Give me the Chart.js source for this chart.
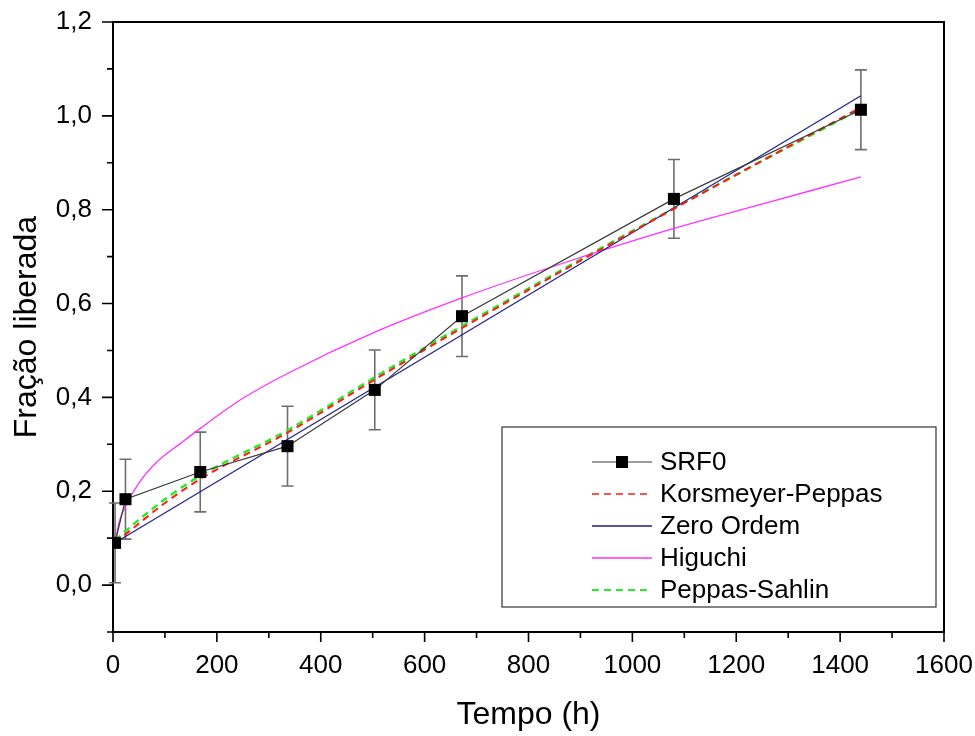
<!DOCTYPE html>
<html>
<head>
<meta charset="utf-8">
<script src="https://cdn.jsdelivr.net/npm/chart.js@4.4.0/dist/chart.umd.min.js"></script>
<style>
  body { margin: 0; background: #fff; }
  #wrap { width: 975px; height: 736px; }
</style>
</head>
<body>
<div id="wrap"><canvas id="myChart" width="975" height="736"></canvas></div>
<script>
// dados experimentais
const tempo = [4, 24, 168, 336, 504, 672, 1080, 1440];
const srf0 = [0.09, 0.183, 0.241, 0.296, 0.416, 0.573, 0.823, 1.013];
const srf0Erro = [0.085, 0.085, 0.085, 0.085, 0.085, 0.086, 0.084, 0.085];

// curvas dos modelos
const tModelo = [4, 24, 100, 168, 336, 504, 672, 1080, 1440];
const korsmeyer = [0.09, 0.108, 0.175, 0.226, 0.325, 0.438, 0.548, 0.802, 1.018];
const sahlin = [0.095, 0.115, 0.183, 0.233, 0.33, 0.443, 0.552, 0.803, 1.015];

const tZero = [4, 1440];
const zeroOrdem = [0.09, 1.043];

const tHiguchi = [4, 12, 24, 50, 85, 130, 168, 250, 336, 504, 672, 850, 1080, 1260, 1440];
const higuchi = [0.09, 0.135, 0.168, 0.218, 0.263, 0.302, 0.334, 0.398, 0.451, 0.539, 0.612, 0.68, 0.76, 0.815, 0.87];

const xTicks = [0, 200, 400, 600, 800, 1000, 1200, 1400, 1600];
const yTicks = [0.0, 0.2, 0.4, 0.6, 0.8, 1.0, 1.2];

const pts = (xs, ys) => xs.map((x, i) => ({x: x, y: ys[i]}));
const FONT = "'Liberation Sans', Arial, sans-serif";

const ctx = document.getElementById('myChart').getContext("2d");

// barras de erro, moldura, ticks e legenda
const extras = {
	id: 'extras',
	beforeDatasetsDraw(chart) {
		const c = chart.ctx, xs = chart.scales.x, ys = chart.scales.y;
		c.save();
		c.strokeStyle = '#6e6e6e';
		c.lineWidth = 1.6;
		tempo.forEach((t, i) => {
			const px = xs.getPixelForValue(t);
			const top = ys.getPixelForValue(srf0[i] + srf0Erro[i]);
			const bot = ys.getPixelForValue(srf0[i] - srf0Erro[i]);
			c.beginPath();
			c.moveTo(px, top); c.lineTo(px, bot);
			c.moveTo(px - 6, top); c.lineTo(px + 6, top);
			c.moveTo(px - 6, bot); c.lineTo(px + 6, bot);
			c.stroke();
		});
		c.restore();
	},
	afterDraw(chart) {
		const c = chart.ctx, a = chart.chartArea, xs = chart.scales.x, ys = chart.scales.y;
		c.save();
		c.strokeStyle = '#000';
		c.lineWidth = 2;
		c.beginPath();
		c.moveTo(a.left, a.top); c.lineTo(a.right, a.top); c.lineTo(a.right, a.bottom);
		c.stroke();
		c.lineWidth = 1.6;
		c.beginPath();
		for (let v = 0; v <= 1600; v += 100) {
			const px = xs.getPixelForValue(v);
			const len = v % 200 === 0 ? 10 : 6;
			c.moveTo(px, a.bottom); c.lineTo(px, a.bottom + len);
		}
		for (let k = -1; k <= 12; k++) {
			const py = ys.getPixelForValue(k / 10);
			const len = k % 2 === 0 ? 11 : 6;
			c.moveTo(a.left, py); c.lineTo(a.left - len, py);
		}
		c.stroke();

		// legenda
		const bx = 502, by = 427, bw = 434, bh = 180;
		c.fillStyle = '#fff';
		c.fillRect(bx, by, bw, bh);
		c.strokeStyle = '#333';
		c.lineWidth = 1.2;
		c.strokeRect(bx, by, bw, bh);
		c.font = '26px ' + FONT;
		c.textBaseline = 'middle';
		const rows = [462, 494, 526, 558, 590];
		chart.data.datasets.forEach((ds, i) => {
			const y = rows[i];
			c.save();
			c.strokeStyle = ds.borderColor;
			c.lineWidth = ds.legendWidth;
			c.setLineDash(ds.borderDash || []);
			c.beginPath();
			c.moveTo(592, y); c.lineTo(652, y);
			c.stroke();
			if (i === 0) {
				c.fillStyle = '#000';
				c.fillRect(616, y - 6, 12, 12);
			}
			c.restore();
			c.fillStyle = '#000';
			c.fillText(ds.label, 660, y + 1);
		});
		c.restore();
	}
};

new Chart(ctx, {
	type: 'line',
	data: {
		datasets: [{
			label: 'SRF0',
			data: pts(tempo, srf0),
			borderColor: '#3a3a3a',
			borderWidth: 1.2,
			legendWidth: 1.2,
			pointStyle: 'rect',
			pointRadius: 8.5,
			pointBackgroundColor: '#000',
			pointBorderColor: '#000',
			pointBorderWidth: 0,
			tension: 0
		}, {
			label: 'Korsmeyer-Peppas',
			data: pts(tModelo, korsmeyer),
			borderColor: '#ff1a1a',
			borderWidth: 2,
			legendWidth: 1.6,
			borderDash: [7, 5],
			pointRadius: 0,
			cubicInterpolationMode: 'monotone'
		}, {
			label: 'Zero Ordem',
			data: pts(tZero, zeroOrdem),
			borderColor: '#1f1f8f',
			borderWidth: 1.2,
			legendWidth: 1.4,
			pointRadius: 0,
			tension: 0
		}, {
			label: 'Higuchi',
			data: pts(tHiguchi, higuchi),
			borderColor: '#ff33ff',
			borderWidth: 1.3,
			legendWidth: 1.6,
			pointRadius: 0,
			cubicInterpolationMode: 'monotone'
		}, {
			label: 'Peppas-Sahlin',
			data: pts(tModelo, sahlin),
			borderColor: '#22ee22',
			borderWidth: 2.4,
			legendWidth: 1.8,
			borderDash: [7, 5],
			pointRadius: 0,
			cubicInterpolationMode: 'monotone'
		}]
	},
	options: {
		responsive: false,
		animation: false,
		layout: {
			padding: {top: 22, right: 31, left: 0, bottom: 0}
		},
		plugins: {
			legend: {display: false},
			tooltip: {enabled: false},
			title: {display: false}
		},
		scales: {
			x: {
				type: 'linear',
				min: 0,
				max: 1600,
				afterFit: (s) => { s.height = 104; s.paddingLeft = 0; s.paddingRight = 0; },
				afterBuildTicks: (s) => { s.ticks = xTicks.map(v => ({value: v})); },
				grid: {display: false},
				border: {display: true, color: '#000', width: 2},
				ticks: {
					color: '#000',
					font: {family: FONT, size: 26},
					padding: 10,
					maxRotation: 0,
					autoSkip: false,
					callback: (v) => String(v)
				},
				title: {
					display: true,
					text: 'Tempo (h)',
					color: '#000',
					font: {family: FONT, size: 32},
					padding: {top: 0, bottom: 2}
				}
			},
			y: {
				type: 'linear',
				min: -0.1,
				max: 1.2,
				afterFit: (s) => { s.width = 113; s.paddingTop = 0; s.paddingBottom = 0; },
				afterBuildTicks: (s) => { s.ticks = yTicks.map(v => ({value: v})); },
				grid: {display: false},
				border: {display: true, color: '#000', width: 2},
				ticks: {
					color: '#000',
					font: {family: FONT, size: 26},
					padding: 13,
					callback: (v) => v.toFixed(1).replace('.', ',')
				},
				title: {
					display: true,
					text: 'Fração liberada',
					color: '#000',
					font: {family: FONT, size: 32},
					padding: {top: 8, bottom: 0}
				}
			}
		}
	},
	plugins: [extras]
});
</script>
</body>
</html>
